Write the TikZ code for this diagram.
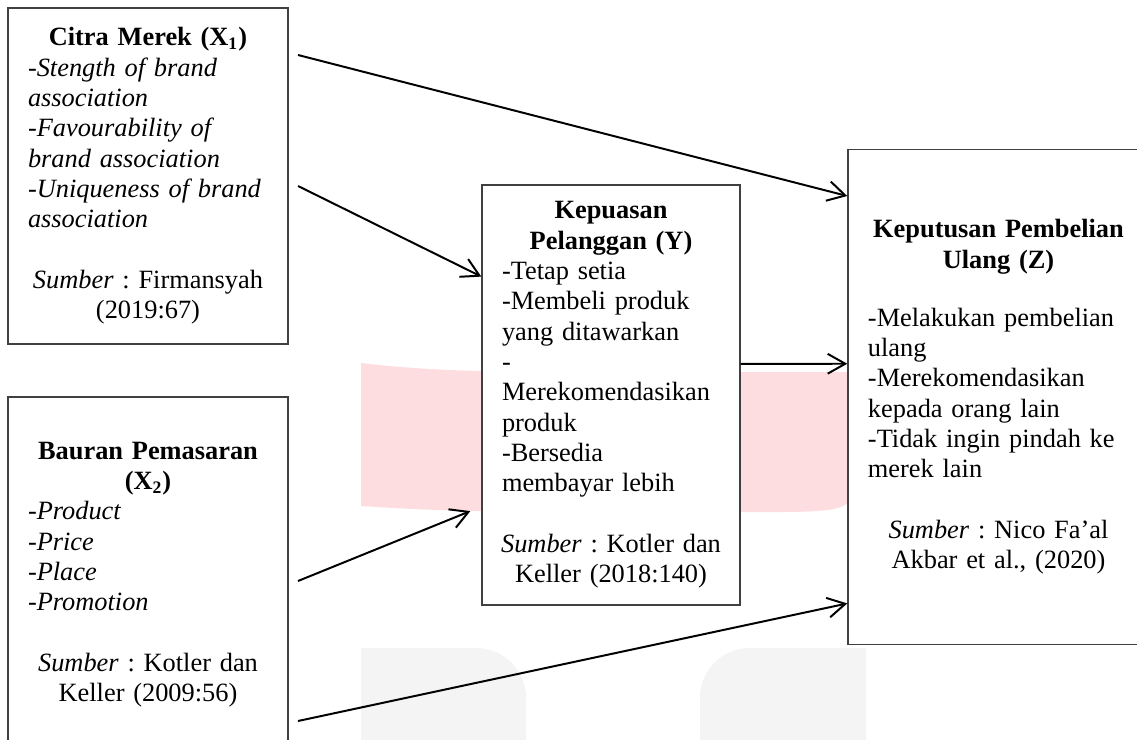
\documentclass[tikz,border=0pt]{standalone}
\usepackage{fontspec}
\setmainfont{Liberation Serif}
\usetikzlibrary{arrows.meta,calc}
\definecolor{wmpink}{RGB}{253,221,224}
\definecolor{wmgray}{RGB}{244,244,244}
\frenchspacing

\begin{document}
\begin{tikzpicture}[x=0.455pt,y=-0.455pt,
      >={Straight Barb[length=8pt,width=9pt]},
      varbox/.style={rectangle, draw=black!75, line width=0.6pt, fill=white,
        inner xsep=9.1pt, inner ysep=0pt, align=left,
        font=\fontsize{12pt}{13.8pt}\selectfont\frenchspacing},
      link/.style={->, line width=0.9pt}]
      \useasboundingbox (0,0) rectangle (1137,740);
      \clip (0,0) rectangle (1137,740);
      % watermark in the background
      \fill[wmpink] (361,363) .. controls (420,370) and (480,372) .. (560,372) -- (848,372)
        -- (848,500) .. controls (848,510) and (820,512) .. (780,512) -- (560,512)
        .. controls (480,512) and (420,510) .. (361,506) -- cycle;
      \fill[wmgray] (361,745) -- (361,648) -- (476,648) .. controls (504,648) and (526,670) .. (526,698) -- (526,745) -- cycle;
      \fill[wmgray] (700,745) -- (700,698) .. controls (700,670) and (722,648) .. (750,648) -- (866,648) -- (866,745) -- cycle;
      % variables
      \node[varbox, minimum width=127.4pt, minimum height=152.9pt, text width=109.2pt] at (148,176) (citra) {%
        {\centering\bfseries Citra Merek (X\textsubscript{1})\par}
        -\textit{Stength of brand}\\
        \textit{association}\\
        -\textit{Favourability of}\\
        \textit{brand association}\\
        -\textit{Uniqueness of brand}\\
        \textit{association}\par\vspace{13.8pt}
        {\centering\textit{Sumber} : Firmansyah\\ (2019:67)\par}};
      \node[varbox, minimum width=127.4pt, minimum height=161.5pt, text width=109.2pt] at (148,574.5) (bauran) {%
        {\centering\bfseries Bauran Pemasaran\\ (X\textsubscript{2})\par}
        -\textit{Product}\\
        -\textit{Price}\\
        -\textit{Place}\\
        -\textit{Promotion}\par\vspace{13.8pt}
        {\centering\textit{Sumber} : Kotler dan\\ Keller (2009:56)\par}};
      \node[varbox, minimum width=117.4pt, minimum height=191.1pt, text width=99.2pt] at (611,395) (kepuasan) {%
        {\centering\bfseries Kepuasan\\ Pelanggan (Y)\par}
        -Tetap setia\\
        -Membeli produk\\
        yang ditawarkan\\
        -\\
        Merekomendasikan\\
        produk\\
        -Bersedia\\
        membayar lebih\par\vspace{13.8pt}
        {\centering\makebox[\linewidth][c]{\textit{Sumber} : Kotler dan}\\ Keller (2018:140)\par}};
      \node[varbox, minimum width=137pt, minimum height=225.2pt, text width=118.8pt] at (998.5,397) (keputusan) {%
        {\centering\bfseries Keputusan Pembelian\\ Ulang (Z)\par}\vspace{12.5pt}
        -Melakukan pembelian\\
        ulang\\
        -Merekomendasikan\\
        kepada orang lain\\
        -Tidak ingin pindah ke\\
        merek lain\par\vspace{13.8pt}
        {\centering\textit{Sumber} : Nico Fa’al\\ Akbar et al., (2020)\par}};
      % arrows
      \coordinate (c1) at (298,55);
      \coordinate (c2) at (298,186);
      \coordinate (b1) at (298,581);
      \coordinate (b2) at (298,721);
      \draw[link] (c1) -- ($(keputusan.north west)!0.095!(keputusan.south west)$);
      \draw[link] (c2) -- ($(kepuasan.north west)!0.219!(kepuasan.south west)$);
      \draw[link, shorten >=5.4pt] (b1) -- ($(kepuasan.north west)!0.765!(kepuasan.south west)$);
      \draw[link] ($(kepuasan.north east)!0.426!(kepuasan.south east)$) -- ($(keputusan.north west)!0.433!(keputusan.south west)$);
      \draw[link] (b2) -- ($(keputusan.north west)!0.916!(keputusan.south west)$);
\end{tikzpicture}
\end{document}
